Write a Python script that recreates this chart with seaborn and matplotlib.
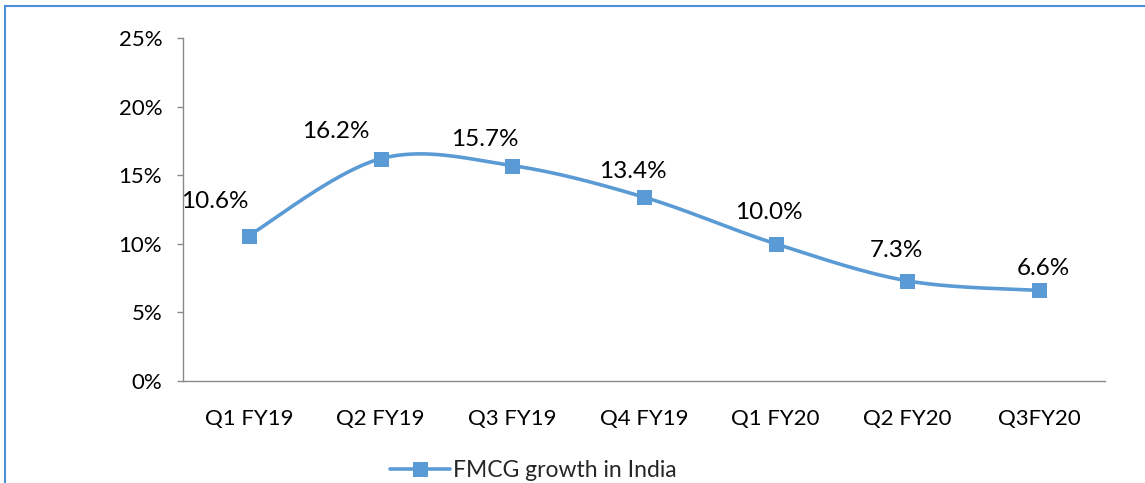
import numpy as np
import pandas as pd
import matplotlib
matplotlib.use("Agg")
import matplotlib.pyplot as plt
from matplotlib.lines import Line2D
from matplotlib.patches import Rectangle
import seaborn as sns

# Data
quarters = ['Q1 FY19', 'Q2 FY19', 'Q3 FY19', 'Q4 FY19', 'Q1 FY20', 'Q2 FY20', 'Q3FY20']
growth = [10.6, 16.2, 15.7, 13.4, 10.0, 7.3, 6.6]
labels = ['10.6%', '16.2%', '15.7%', '13.4%', '10.0%', '7.3%', '6.6%']
y_ticks = [0, 5, 10, 15, 20, 25]
series_name = 'FMCG growth in India'

# label offsets in pixels (x, y) relative to the marker, as Excel placed them
label_offsets = [(-34, 34), (-45, 27), (-27, 26), (-11, 26), (-7, 31), (-11, 30), (4, 22)]

blue = '#5B9BD5'
grey = '#898989'

sns.set_theme(style='white')
plt.rcParams['font.family'] = ['Lato', 'DejaVu Sans']


def smooth_curve(xs, ys, n=40):
    # Excel style smoothed line (Catmull-Rom as cubic bezier)
    px = np.concatenate([[xs[0]], xs, [xs[-1]]])
    py = np.concatenate([[ys[0]], ys, [ys[-1]]])
    out_x, out_y = [], []
    t = np.linspace(0, 1, n)
    for i in range(1, len(px) - 2):
        p0 = np.array([px[i], py[i]])
        p3 = np.array([px[i + 1], py[i + 1]])
        c1 = p0 + (np.array([px[i + 1], py[i + 1]]) - np.array([px[i - 1], py[i - 1]])) / 6
        c2 = p3 - (np.array([px[i + 2], py[i + 2]]) - np.array([px[i], py[i]])) / 6
        pts = ((1 - t) ** 3)[:, None] * p0 + (3 * (1 - t) ** 2 * t)[:, None] * c1 \
            + (3 * (1 - t) * t ** 2)[:, None] * c2 + (t ** 3)[:, None] * p3
        out_x.extend(pts[:, 0])
        out_y.extend(pts[:, 1])
    return np.array(out_x), np.array(out_y)


xpos = np.arange(len(quarters))
df = pd.DataFrame({'pos': xpos, 'growth': growth})
sx, sy = smooth_curve(xpos.astype(float), np.array(growth, dtype=float))
smooth_df = pd.DataFrame({'pos': sx, 'growth': sy})

fig = plt.figure(figsize=(11.45, 4.83), dpi=100)
ax = fig.add_axes([183 / 1145, 102 / 483, (1105 - 183) / 1145, (381 - 38) / 483])

sns.lineplot(data=smooth_df, x='pos', y='growth', ax=ax, color=blue, linewidth=2.6,
             sort=False, estimator=None)
sns.lineplot(data=df, x='pos', y='growth', ax=ax, color=blue, linestyle='none',
             marker='s', markersize=10.8, markeredgewidth=0, estimator=None)

for x, y, lab, (dx, dy) in zip(xpos, growth, labels, label_offsets):
    ax.annotate(lab, (x, y), xytext=(dx * 0.72, dy * 0.72), textcoords='offset points',
                ha='center', va='center', fontsize=17.5, color='black')

ax.set_xlim(-0.5, len(quarters) - 0.5)
ax.set_ylim(0, 25)
ax.set_yticks(y_ticks)
ax.set_yticklabels([f'{v}%' for v in y_ticks])
ax.set_xticks(xpos)
ax.set_xticklabels(quarters)
ax.set_xlabel('')
ax.set_ylabel('')

for side in ['top', 'right']:
    ax.spines[side].set_visible(False)
for side in ['left', 'bottom']:
    ax.spines[side].set_color(grey)
    ax.spines[side].set_linewidth(1.0)

ax.tick_params(axis='y', left=True, length=4, width=1, color=grey, pad=11,
               labelsize=16, labelcolor='black')
ax.tick_params(axis='x', bottom=False, length=0, pad=20.5, labelsize=16, labelcolor='black')
ax.grid(False)

handle = Line2D([], [], color=blue, linewidth=2.6, marker='s', markersize=10.8,
                markeredgewidth=0)
fig.legend([handle], [series_name], loc='center', bbox_to_anchor=(0.466, 0.025),
           frameon=False, fontsize=16.5, handlelength=2.6, handletextpad=0.15,
           borderaxespad=0)

# blue outer frame of the original chart (partly cut off)
fig.patches.append(Rectangle((5 / 1145, -0.2), 1.2, 1.2 - 6 / 483,
                             transform=fig.transFigure, fill=False,
                             edgecolor='#4A8FD8', linewidth=1.5, clip_on=False))

fig.savefig('out.png', dpi=100)
